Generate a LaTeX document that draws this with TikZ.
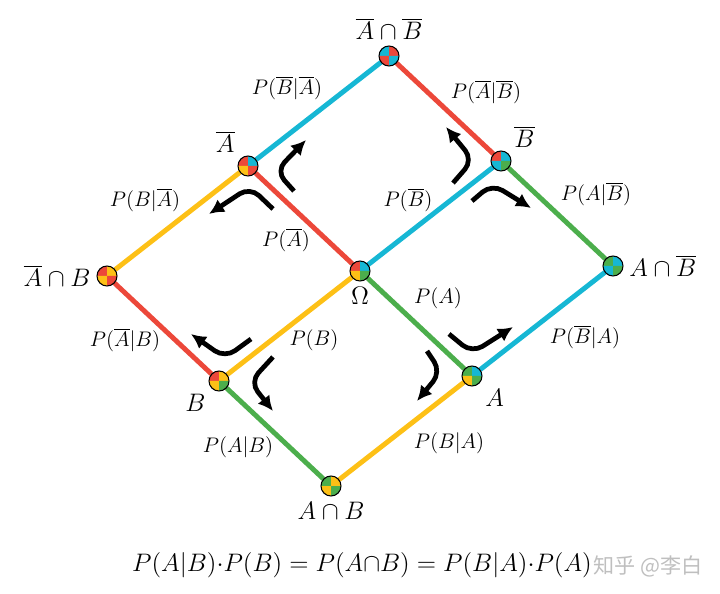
\documentclass[tikz,border=0pt]{standalone}
\usepackage{fontspec}
\newfontfamily\cjk{Noto Sans CJK SC}
\usetikzlibrary{arrows.meta,positioning}
\definecolor{cred}{RGB}{236,72,58}
\definecolor{ccyan}{RGB}{22,183,212}
\definecolor{cgreen}{RGB}{76,174,76}
\definecolor{cyellow}{RGB}{253,192,22}
\tikzset{event/.style={shape=circle, inner sep=0pt, minimum size=11.3pt, label distance=-3pt}}
\tikzset{every label/.append style={font=\Large}}
\tikzset{link/.style={line width=2.8pt}}
\tikzset{turn/.style={-{Latex[length=8.5pt,width=8.5pt]}, line width=2.7pt, rounded corners=7pt}}
\tikzset{prob/.style={font=\large}}

% node, top left, top right, bottom left, bottom right
\newcommand{\quarters}[5]{
  \fill[#2] (#1.center) -- ++(180:10) arc[start angle=180, delta angle=90, radius=10] -- cycle;
  \fill[#3] (#1.center) -- ++(270:10) arc[start angle=270, delta angle=90, radius=10] -- cycle;
  \fill[#4] (#1.center) -- ++(90:10) arc[start angle=90, delta angle=90, radius=10] -- cycle;
  \fill[#5] (#1.center) -- ++(0:10) arc[start angle=0, delta angle=90, radius=10] -- cycle;
  \draw[line width=0.6pt] (#1.center) circle[radius=10];
}

\begin{document}
\begin{tikzpicture}[x=0.02cm, y=-0.02cm]
    \useasboundingbox (0,0) rectangle (720,594);

    \node(acbc)[event] [label=above:{$\overline{A}\cap\overline{B}$}] at (389,56)  {};
    \node(ac)[event]   [label=above left:{$\overline{A}$}]            at (248,166) {};
    \node(bc)[event]   [label=above right:{$\overline{B}$}]           at (501,161) {};
    \node(acb)[event]  [label=left:{$\overline{A}\cap B$}]            at (107,276) {};
    \node(o)[event]    [label=below:{$\Omega$}]                       at (360,271) {};
    \node(abc)[event]  [label=right:{$A\cap\overline{B}$}]            at (613,266) {};
    \node(b)[event]    [label=below left:{$B$}]                       at (219,381) {};
    \node(a)[event]    [label=below right:{$A$}]                      at (472,376) {};
    \node(ab)[event]   [label=below:{$A\cap B$}]                      at (331,486) {};

    \draw [link][draw=ccyan]   (acbc) -- (ac);
    \draw [link][draw=cred]    (acbc) -- (bc);
    \draw [link][draw=cyellow] (ac) -- (acb);
    \draw [link][draw=cred]    (ac) -- (o);
    \draw [link][draw=ccyan]   (o) -- (bc);
    \draw [link][draw=cgreen]  (bc) -- (abc);
    \draw [link][draw=cred]    (acb) -- (b);
    \draw [link][draw=cyellow] (o) -- (b);
    \draw [link][draw=cgreen]  (o) -- (a);
    \draw [link][draw=ccyan]   (abc) -- (a);
    \draw [link][draw=cgreen]  (b) -- (ab);
    \draw [link][draw=cyellow] (a) -- (ab);

    \quarters{acbc}{ccyan}{cred}{cred}{ccyan}
    \quarters{ac}{cred}{ccyan}{cyellow}{cred}
    \quarters{bc}{cred}{ccyan}{ccyan}{cgreen}
    \quarters{acb}{cred}{cyellow}{cyellow}{cred}
    \quarters{o}{cred}{ccyan}{cyellow}{cgreen}
    \quarters{abc}{cgreen}{ccyan}{ccyan}{cgreen}
    \quarters{b}{cred}{cyellow}{cyellow}{cgreen}
    \quarters{a}{cgreen}{ccyan}{cyellow}{cgreen}
    \quarters{ab}{cgreen}{cyellow}{cyellow}{cgreen}

    \node(t1)[prob] at (287,88)  {$P(\overline{B}|\overline{A})$};
    \node(t2)[prob] at (486,92)  {$P(\overline{A}|\overline{B})$};
    \node(t3)[prob] at (145,200) {$P(B|\overline{A})$};
    \node(t4)[prob] at (286,240) {$P(\overline{A})$};
    \node(t5)[prob] at (408,200) {$P(\overline{B})$};
    \node(t6)[prob] at (596,194) {$P(A|\overline{B})$};
    \node(t7)[prob] at (125,340) {$P(\overline{A}|B)$};
    \node(t8)[prob] at (314,340) {$P(B)$};
    \node(t9)[prob] at (438,298) {$P(A)$};
    \node(t10)[prob] at (585,337) {$P(\overline{B}|A)$};
    \node(t11)[prob] at (238,447) {$P(A|B)$};
    \node(t12)[prob] at (449,443) {$P(B|A)$};

    % turning arrows round the corners
    \draw [turn] (294,191) -- (276,171) -- (306,140);
    \draw [turn] (273,209) -- (250,187) -- (209,214);
    \draw [turn] (453,183) -- (473,160) -- (446,127);
    \draw [turn] (472,201) -- (492,184) -- (531,208);
    \draw [turn] (251,339) -- (225,358) -- (191,334);
    \draw [turn] (273,357) -- (250,382) -- (273,411);
    \draw [turn] (449,334) -- (472,353) -- (513,327);
    \draw [turn] (427,351) -- (441,372) -- (417,401);

    \node(eq)[font=\fontsize{15.5}{18}\selectfont] at (362,565)
        {$P(A|B){\cdot}P(B) = P(A{\cap}B) = P(B|A){\cdot}P(A)$};
    \node(wm)[text=black!25, font=\cjk\fontsize{12}{14}\selectfont] at (648,566) {知乎 @李白};
\end{tikzpicture}
\end{document}
